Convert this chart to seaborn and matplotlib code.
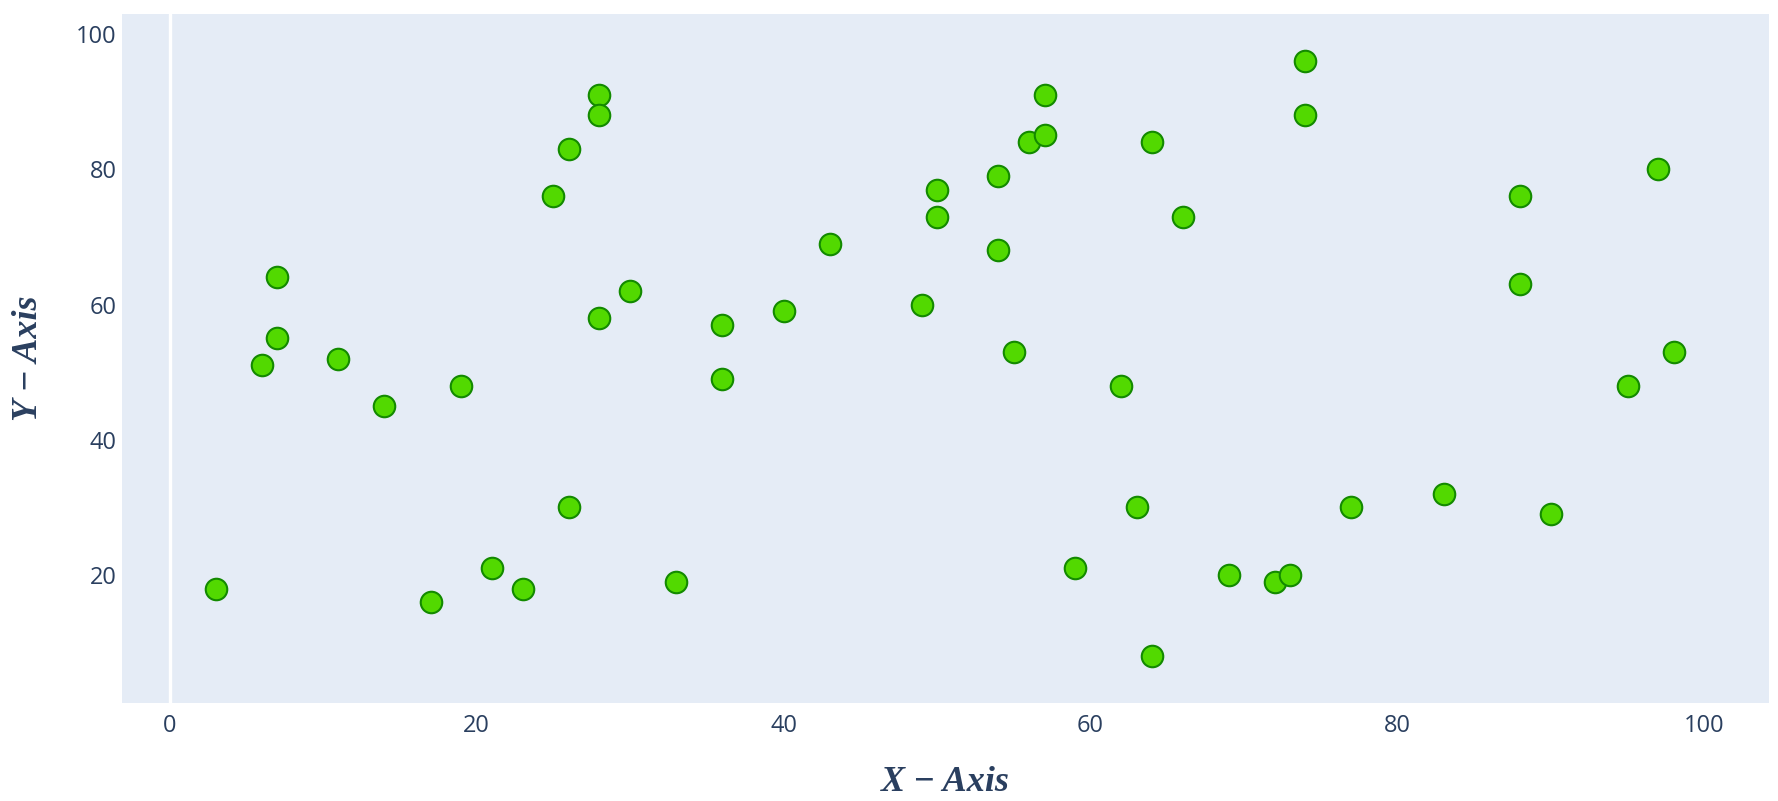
import matplotlib
matplotlib.use("Agg")
import matplotlib.pyplot as plt
import seaborn as sns
import pandas as pd

x_values = [3, 6, 7, 7, 11, 14, 17, 19, 21, 23, 25, 26, 26, 28, 28, 28, 30, 33, 36, 36,
            40, 43, 49, 50, 50, 54, 54, 55, 56, 57, 57, 59, 62, 63, 64, 64, 66, 69, 72, 73,
            74, 74, 77, 83, 88, 88, 90, 95, 97, 98]
y_values = [18, 51, 64, 55, 52, 45, 16, 48, 21, 18, 76, 83, 30, 91, 88, 58, 62, 19, 57, 49,
            59, 69, 60, 77, 73, 79, 68, 53, 84, 91, 85, 21, 48, 30, 84, 8, 73, 20, 19, 20,
            96, 88, 30, 32, 76, 63, 29, 48, 80, 53]
x_ticks = [0, 20, 40, 60, 80, 100]
y_ticks = [20, 40, 60, 80, 100]

df = pd.DataFrame({"x": x_values, "y": y_values})

sns.set_theme(style="white")
plt.rcParams["font.family"] = ["Open Sans", "DejaVu Sans"]

fig = plt.figure(figsize=(17.78, 8.01), dpi=100)
ax = fig.add_axes([122 / 1778, 1 - 703 / 801, (1769 - 122) / 1778, (703 - 14) / 801])
ax.set_facecolor("#E5ECF6")
for s in ax.spines.values():
    s.set_visible(False)

ax.axvline(0, color="white", lw=2.4, zorder=1)

sns.scatterplot(data=df, x="x", y="y", ax=ax, s=240, color="#52D900",
                edgecolor="#138A00", linewidth=1.5, zorder=3, legend=False)

ax.set_xlim(-3.1, 104.2)
ax.set_ylim(1.07, 102.96)
ax.set_xticks(x_ticks)
ax.set_yticks(y_ticks)
ax.tick_params(axis="both", length=0, labelsize=17, labelcolor="#2a3f5f")
ax.tick_params(axis="x", pad=8)
ax.tick_params(axis="y", pad=4)
ax.grid(False)

title_kw = dict(family=["Liberation Serif", "DejaVu Serif"], style="italic",
                weight="bold", size=26, color="#2a3f5f")
ax.set_xlabel("X − Axis", labelpad=20, **title_kw)
ax.set_ylabel("Y − Axis", labelpad=22, **title_kw)

fig.savefig("out.png", dpi=100)
